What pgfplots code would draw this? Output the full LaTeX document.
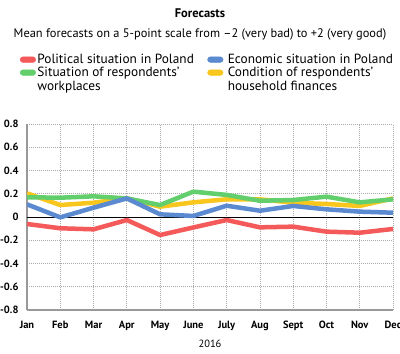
\documentclass[border=0pt]{standalone}
\usepackage{fontspec}
\setmainfont{PT Sans}
\usepackage{pgfplots}
\pgfplotsset{compat=1.18}
\definecolor{cred}{HTML}{F45A5A}
\definecolor{cblue}{HTML}{5B8AD0}
\definecolor{cgreen}{HTML}{63CE6C}
\definecolor{cyellow}{HTML}{F8C61C}
\definecolor{gridc}{HTML}{AAAAAA}
\definecolor{axc}{HTML}{999999}
\newcommand{\lgA}[1]{\parbox[t]{170bp}{\fontsize{13.3bp}{13bp}\selectfont\strut #1}}
\newcommand{\lgB}[1]{\parbox[t]{170bp}{\fontsize{13.3bp}{13bp}\selectfont\strut #1}}
\begin{document}
\begin{tikzpicture}[x=1bp,y=1bp]
\begin{axis}[
  at={(0,0)}, anchor=south west,
  scale only axis, width=366bp, height=186bp,
  xmin=0, xmax=11, ymin=-0.8, ymax=0.8,
  axis lines=left,
  axis line style={-, draw=axc, line width=1.5bp},
  xtick={0,...,11},
  xticklabels={Jan,Feb,Mar,Apr,May,June,July,Aug,Sept,Oct,Nov,Dec},
  ytick={-0.8,-0.6,-0.4,-0.2,0,0.2,0.4,0.6,0.8},
  yticklabels={-0.8,-0.6,-0.4,-0.2,0,0.2,0.4,0.6,0.8},
  major tick length=0pt,
  grid=major,
  major grid style={draw=gridc, line width=0.7bp, dash pattern=on 1bp off 1bp},
  ticklabel style={font=\fontsize{10.5bp}{12bp}\selectfont\bfseries},
  xticklabel style={yshift=-7.5bp},
  yticklabel style={xshift=-5bp},
  xlabel={2016},
  xlabel style={font=\fontsize{10.5bp}{12bp}\selectfont, yshift=-2.5bp},
  legend columns=2,
  legend style={draw=none, fill=none, inner sep=0pt, outer sep=0pt,
    at={(-0.0191,1.3753)}, anchor=north west,
    column sep=1.5bp, row sep=2bp,
    cells={anchor=base west},
    nodes={inner sep=0pt},
    /tikz/every even column/.append style={column sep=0bp},
    /tikz/column 3/.append style={column sep=4.5bp}},
  legend image code/.code={\fill[#1, rounded corners=2.7bp] (0bp,1.25bp) rectangle (15.5bp,6.75bp);},
]
\addlegendimage{cred}
\addlegendentry{\lgA{Political situation in Poland}}
\addlegendimage{cblue}
\addlegendentry{\lgB{Economic situation in Poland}}
\addlegendimage{cgreen}
\addlegendentry{\lgA{Situation of respondents'\\workplaces}}
\addlegendimage{cyellow}
\addlegendentry{\lgB{Condition of respondents'\\household finances}}

\addplot[forget plot, black, line width=1bp] coordinates {(0,0) (11,0)};

\addplot[forget plot, cyellow, line width=4.5bp, line join=round] coordinates {
(0,0.204) (1,0.103) (2,0.123) (3,0.160) (4,0.089) (5,0.126) (6,0.152) (7,0.152) (8,0.123) (9,0.112) (10,0.095) (11,0.160)};
\addplot[forget plot, cgreen, line width=4.5bp, line join=round] coordinates {
(0,0.170) (1,0.166) (2,0.178) (3,0.160) (4,0.103) (5,0.218) (6,0.190) (7,0.140) (8,0.146) (9,0.175) (10,0.126) (11,0.152)};
\addplot[forget plot, cred, line width=4.5bp, line join=round] coordinates {
(0,-0.060) (1,-0.097) (2,-0.106) (3,-0.026) (4,-0.155) (5,-0.090) (6,-0.026) (7,-0.089) (8,-0.083) (9,-0.126) (10,-0.135) (11,-0.103)};
\addplot[forget plot, cblue, line width=4.5bp, line join=round] coordinates {
(0,0.109) (1,-0.003) (2,0.080) (3,0.160) (4,0.023) (5,0.009) (6,0.097) (7,0.054) (8,0.095) (9,0.066) (10,0.046) (11,0.037)};
\end{axis}
\node[anchor=base, font=\fontsize{12.5bp}{14bp}\selectfont\bfseries] at (173,292.3) {Forecasts};
\node[anchor=base, font=\fontsize{12.4bp}{14bp}\selectfont] at (173,272.3) {Mean forecasts on a 5-point scale from –2 (very bad) to +2 (very good)};
\pgfresetboundingbox
\path (-27,-44) rectangle (373,310);
\end{tikzpicture}
\end{document}
